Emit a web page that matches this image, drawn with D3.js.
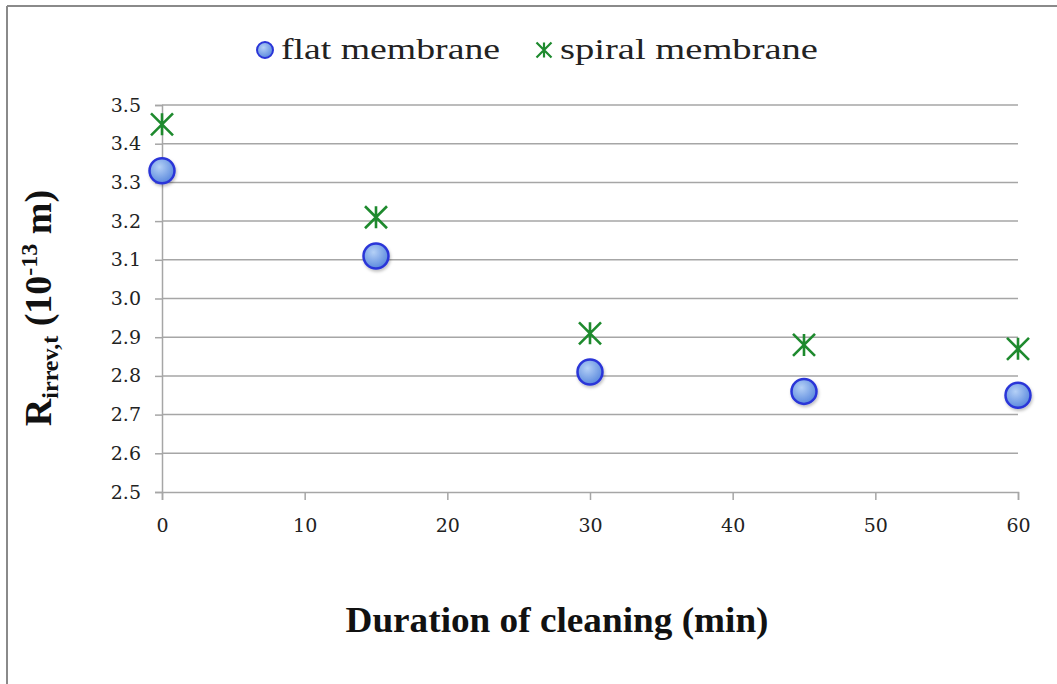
<!DOCTYPE html>
<html><head><meta charset="utf-8">
<script src="https://cdn.jsdelivr.net/npm/d3@7"></script>
<style>body{margin:0;background:#fff}svg{display:block}svg text{font-family:"Liberation Serif","DejaVu Serif",serif}svg .tick text{font-family:"DejaVu Serif",serif}</style>
</head><body>
<script>
const durations = [0, 15, 30, 45, 60];
const flatValues = [3.33, 3.11, 2.81, 2.76, 2.75];
const spiralValues = [3.45, 3.21, 2.91, 2.88, 2.87];
const yTicks = [2.5, 2.6, 2.7, 2.8, 2.9, 3.0, 3.1, 3.2, 3.3, 3.4, 3.5];
const xTicks = [0, 10, 20, 30, 40, 50, 60];
const seriesNames = ["flat membrane", "spiral membrane"];

const W = 1057, H = 684;
const svg = d3.select("body").append("svg").attr("width", W).attr("height", H);
const defs = svg.append("defs");
const grad = defs.append("radialGradient").attr("id", "gb").attr("cx", "40%").attr("cy", "35%").attr("r", "70%");
grad.append("stop").attr("offset", "0%").attr("stop-color", "#b4d0f6");
grad.append("stop").attr("offset", "100%").attr("stop-color", "#5585dc");
const filt = defs.append("filter").attr("id", "sh").attr("x", "-50%").attr("y", "-50%").attr("width", "200%").attr("height", "200%");
filt.append("feDropShadow").attr("dx", 1).attr("dy", 2).attr("stdDeviation", 1.5).attr("flood-color", "#000").attr("flood-opacity", 0.25);

// frame
svg.append("line").attr("x1", 7).attr("x2", W).attr("y1", 6).attr("y2", 6).attr("stroke", "#8a8a8a").attr("stroke-width", 2);
svg.append("line").attr("x1", 7).attr("x2", 7).attr("y1", 6).attr("y2", H).attr("stroke", "#8a8a8a").attr("stroke-width", 2);

const x = d3.scaleLinear().domain([0, 60]).range([162, 1018]);
const y = d3.scaleLinear().domain([2.5, 3.5]).range([492, 105]);

// gridlines
svg.append("g").selectAll("line").data(yTicks.slice(1)).join("line")
  .attr("x1", x(0)).attr("x2", x(60)).attr("y1", d => y(d)).attr("y2", d => y(d))
  .attr("stroke", "#a6a6a6").attr("stroke-width", 1.5);

// y axis
const yAxis = svg.append("g").attr("transform", `translate(${x(0)},0)`)
  .call(d3.axisLeft(y).tickValues(yTicks).tickFormat(d3.format(".1f")).tickSize(7).tickPadding(14));
yAxis.attr("font-family", null);
yAxis.select(".domain").attr("stroke", "#a6a6a6").attr("stroke-width", 1.5);
yAxis.selectAll(".tick line").attr("stroke", "#a6a6a6").attr("stroke-width", 1.5);
yAxis.selectAll("text").attr("font-size", 19).attr("fill", "#222");

// x axis
const xAxis = svg.append("g").attr("transform", `translate(0,${y(2.5)})`)
  .call(d3.axisBottom(x).tickValues(xTicks).tickSize(8).tickPadding(19));
xAxis.attr("font-family", null);
xAxis.select(".domain").attr("stroke", "#a6a6a6").attr("stroke-width", 1.5);
xAxis.selectAll(".tick line").attr("stroke", "#a6a6a6").attr("stroke-width", 1.5);
xAxis.selectAll("text").attr("font-size", 19).attr("fill", "#222");

// star marker path
function starPath(cx, cy, r) {
  return `M${cx},${cy - r}L${cx},${cy + r}M${cx - r},${cy - r}L${cx + r},${cy + r}M${cx - r},${cy + r}L${cx + r},${cy - r}`;
}

// spiral series
svg.append("g").selectAll("path").data(durations.map((t, i) => [t, spiralValues[i]])).join("path")
  .attr("d", d => starPath(x(d[0]), y(d[1]), 11))
  .attr("stroke", "#1e8a2e").attr("stroke-width", 2.6).attr("fill", "none");

// flat series
svg.append("g").selectAll("circle").data(durations.map((t, i) => [t, flatValues[i]])).join("circle")
  .attr("cx", d => x(d[0])).attr("cy", d => y(d[1])).attr("r", 12.5)
  .attr("fill", "url(#gb)").attr("stroke", "#2a35d8").attr("stroke-width", 2.5).attr("filter", "url(#sh)");

// legend
const lg = svg.append("g");
lg.append("circle").attr("cx", 265).attr("cy", 50).attr("r", 8)
  .attr("fill", "url(#gb)").attr("stroke", "#2a35d8").attr("stroke-width", 2);
lg.append("text").attr("x", 281).attr("y", 59).text(seriesNames[0])
  .attr("font-size", 29).attr("fill", "#222").attr("textLength", 219).attr("lengthAdjust", "spacingAndGlyphs");
lg.append("path").attr("d", starPath(544, 50, 7.5)).attr("stroke", "#1e8a2e").attr("stroke-width", 2.2).attr("fill", "none");
lg.append("text").attr("x", 560).attr("y", 59).text(seriesNames[1])
  .attr("font-size", 29).attr("fill", "#222").attr("textLength", 258).attr("lengthAdjust", "spacingAndGlyphs");

// x title
svg.append("text").attr("x", 557).attr("y", 632).attr("text-anchor", "middle")
  .attr("font-weight", "bold").attr("font-size", 35).attr("fill", "#111")
  .attr("textLength", 423).attr("lengthAdjust", "spacingAndGlyphs")
  .text("Duration of cleaning (min)");

// y title
const yt = svg.append("text").attr("transform", "translate(51,308) rotate(-90)").attr("text-anchor", "middle")
  .attr("font-weight", "bold").attr("font-size", 38).attr("fill", "#111");
yt.append("tspan").text("R");
yt.append("tspan").attr("font-size", 24).attr("dy", 7).text("irrev,t");
yt.append("tspan").attr("dy", -7).text(" (10");
yt.append("tspan").attr("font-size", 24).attr("dy", -14).text("-13");
yt.append("tspan").attr("dy", 14).text(" m)");
</script>
</body></html>
